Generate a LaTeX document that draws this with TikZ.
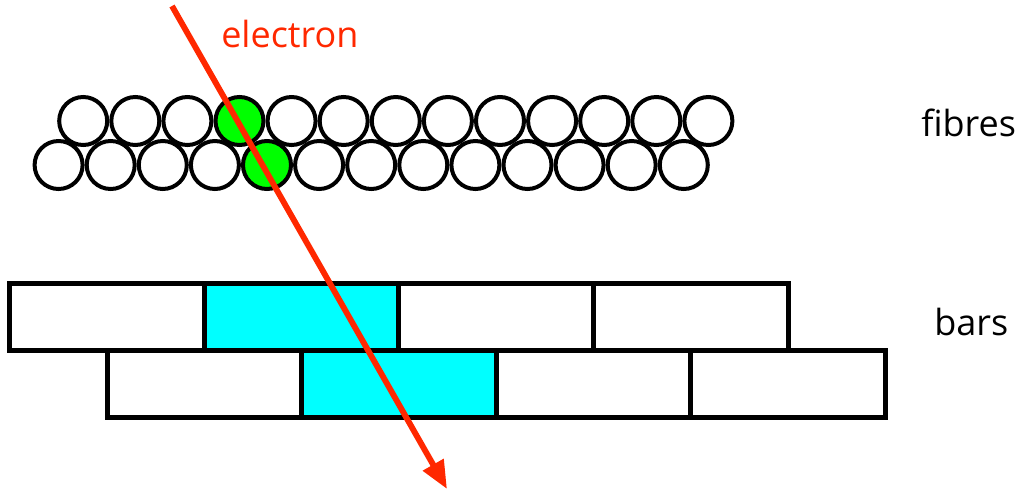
\documentclass[tikz,border=0pt]{standalone}
\usepackage{fontspec}
\setmainfont{Open Sans}
\usetikzlibrary{arrows.meta}
\definecolor{beamred}{RGB}{255,40,0}
\definecolor{hitgreen}{RGB}{0,255,0}
\definecolor{hitcyan}{RGB}{0,255,255}
\begin{document}
\begin{tikzpicture}[x=0.75pt,y=-0.75pt,
  fibre/.style={circle,draw=black,fill=white,line width=3pt,minimum size=36pt,inner sep=0pt},
  hitfibre/.style={fibre,fill=hitgreen},
  bar/.style={rectangle,draw=black,fill=white,line width=3.75pt,minimum width=145.9pt,minimum height=50.25pt,inner sep=0pt},
  hitbar/.style={bar,fill=hitcyan},
  tag/.style={font=\fontsize{27}{32}\selectfont,inner sep=0pt,anchor=base west},
  track/.style={draw=beamred,line width=4.4pt,-{Triangle[length=21pt,width=17pt]}}]
\useasboundingbox (0,0) rectangle (1022,490);

% two staggered layers of scintillating fibres
\foreach \i in {0,...,12}{
  \ifnum\i=3 \def\fstyle{hitfibre}\else\def\fstyle{fibre}\fi
  \node[\fstyle] (ftop\i) at ({83.2+52.1*\i},121) {};
}
\foreach \i in {0,...,12}{
  \ifnum\i=4 \def\fstyle{hitfibre}\else\def\fstyle{fibre}\fi
  \node[\fstyle] (fbot\i) at ({58.6+52.1*\i},165) {};
}

% two staggered layers of scintillator bars
\foreach \i in {0,...,3}{
  \ifnum\i=1 \def\bstyle{hitbar}\else\def\bstyle{bar}\fi
  \node[\bstyle] (btop\i) at ({107.25+194.5*\i},317) {};
}
\foreach \i in {0,...,3}{
  \ifnum\i=1 \def\bstyle{hitbar}\else\def\bstyle{bar}\fi
  \node[\bstyle] (bbot\i) at ({204.75+194.5*\i},384.25) {};
}

% labels
\node[tag,text=beamred] (elabel) at (221,47.7) {electron};
\node[tag] (flabel) at (921,136.7) {fibres};
\node[tag] (blabel) at (934,335) {bars};

% electron track
\coordinate (trackin) at (172,6);
\coordinate (trackout) at (447,489);
\draw[track] (trackin) -- (trackout);
\end{tikzpicture}
\end{document}
